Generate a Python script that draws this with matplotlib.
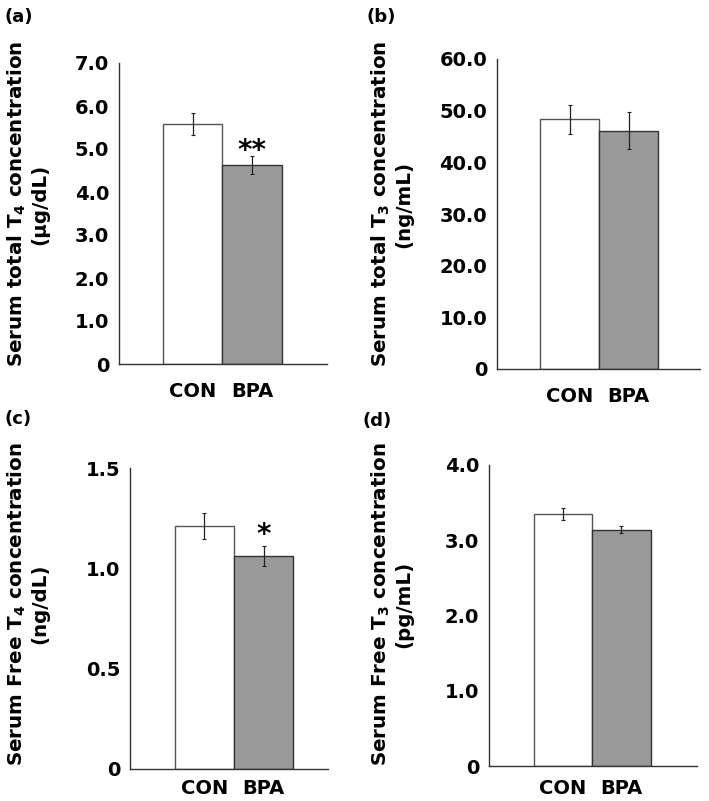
import matplotlib
matplotlib.use('Agg')
import matplotlib.pyplot as plt

# --- data ---
groups = ['CON', 'BPA']

total_t4 = [5.58, 4.63]
total_t4_err = [0.25, 0.21]

total_t3 = [48.3, 46.1]
total_t3_err = [2.85, 3.6]

free_t4 = [1.21, 1.06]
free_t4_err = [0.065, 0.05]

free_t3 = [3.35, 3.14]
free_t3_err = [0.08, 0.05]

t4_ticks = [0, 1, 2, 3, 4, 5, 6, 7]
t4_labels = ['0', '1.0', '2.0', '3.0', '4.0', '5.0', '6.0', '7.0']
t3_ticks = [0, 10, 20, 30, 40, 50, 60]
t3_labels = ['0', '10.0', '20.0', '30.0', '40.0', '50.0', '60.0']
ft4_ticks = [0, 0.5, 1.0, 1.5]
ft4_labels = ['0', '0.5', '1.0', '1.5']
ft3_ticks = [0, 1, 2, 3, 4]
ft3_labels = ['0', '1.0', '2.0', '3.0', '4.0']

W, H = 709, 801
plt.rcParams['font.family'] = ['DejaVu Sans']
plt.rcParams['font.weight'] = 'bold'
plt.rcParams['mathtext.default'] = 'bf'

fig = plt.figure(figsize=(W / 100, H / 100), dpi=100)


def make_axes(left, top, right, bottom):
    # pixel box -> figure fraction
    return fig.add_axes([left / W, 1 - bottom / H, (right - left) / W, (bottom - top) / H])


def draw_panel(ax, values, errs, ticks, labels, xlim, ylabel, letter, label_xy, letter_xy,
               xpad=13, star=None):
    ax.bar([0, 1], values, width=1.0, color=['white', '#999999'],
           edgecolor=['#555555', '#333333'], linewidth=1.0, zorder=2)
    ax.errorbar([0, 1], values, yerr=errs, fmt='none', ecolor='#222222',
                elinewidth=0.9, capsize=1.5, capthick=0.8, zorder=3)
    ax.set_xlim(*xlim)
    ax.set_ylim(ticks[0], ticks[-1])
    ax.set_yticks(ticks)
    ax.set_yticklabels(labels)
    ax.set_xticks([0, 1])
    ax.set_xticklabels(groups)
    ax.tick_params(axis='y', length=0, pad=7, labelsize=14)
    ax.tick_params(axis='x', length=0, pad=xpad, labelsize=14)
    for side in ['top', 'right']:
        ax.spines[side].set_visible(False)
    for side in ['left', 'bottom']:
        ax.spines[side].set_color('#333333')
        ax.spines[side].set_linewidth(1.0)
    fig.text(label_xy[0] / W, 1 - label_xy[1] / H, ylabel, rotation=90,
             ha='center', va='center', ma='center', fontsize=14.3,
             fontweight='bold', linespacing=1.15)
    fig.text(letter_xy[0] / W, 1 - letter_xy[1] / H, letter, ha='left',
             va='center', fontsize=13, fontweight='bold')
    if star is not None:
        text, offset = star
        ax.annotate(text, xy=(1, values[1] + errs[1]), xytext=(0, offset),
                    textcoords='offset points', ha='center', va='baseline',
                    fontsize=20, fontweight='bold')


ax_a = make_axes(119, 63, 327, 364)
draw_panel(ax_a, total_t4, total_t4_err, t4_ticks, t4_labels, (-1.24, 2.26),
           'Serum total T$_4$ concentration\n(\u03bcg/dL)', '(a)', (27, 204), (5, 17),
           star=('**', -2))

ax_b = make_axes(497, 59, 700, 369)
draw_panel(ax_b, total_t3, total_t3_err, t3_ticks, t3_labels, (-1.23, 2.21),
           'Serum total T$_3$ concentration\n(ng/mL)', '(b)', (391, 204), (367, 17))

ax_c = make_axes(130, 468, 328, 769)
draw_panel(ax_c, free_t4, free_t4_err, ft4_ticks, ft4_labels, (-1.26, 2.09),
           'Serum Free T$_4$ concentration\n(ng/dL)', '(c)', (27, 604), (5, 419),
           xpad=7, star=('*', 2))

ax_d = make_axes(489, 465, 697, 766)
draw_panel(ax_d, free_t3, free_t3_err, ft3_ticks, ft3_labels, (-1.26, 2.29),
           'Serum Free T$_3$ concentration\n(pg/mL)', '(d)', (391, 604), (362, 421),
           xpad=9)

fig.savefig('out.png', dpi=100)
